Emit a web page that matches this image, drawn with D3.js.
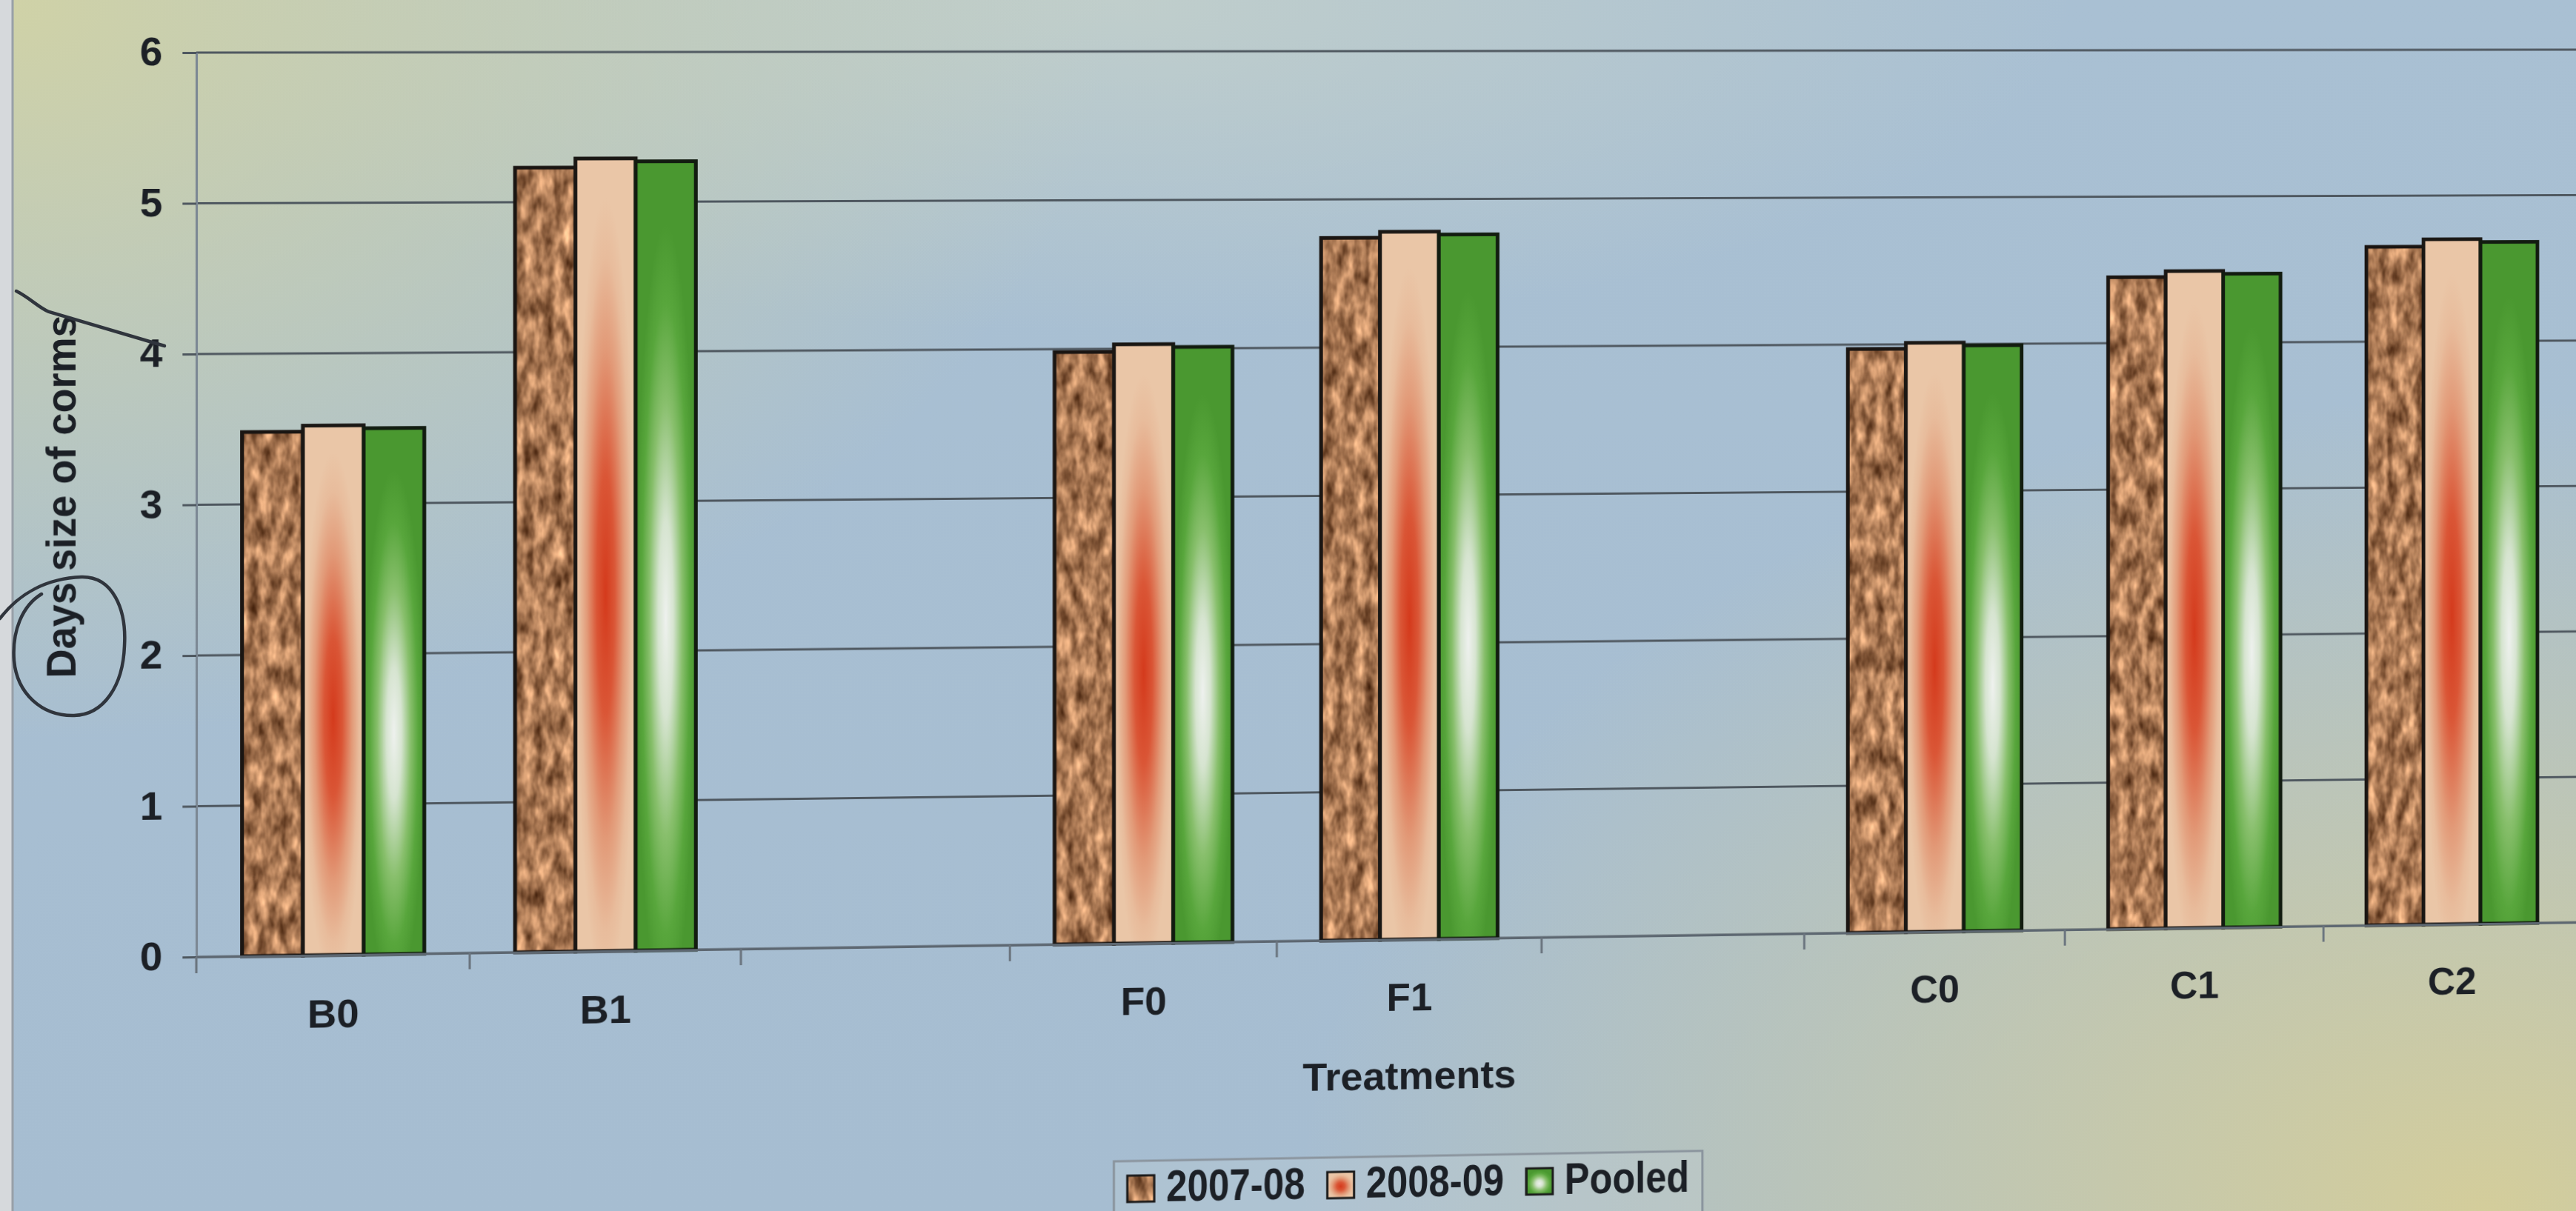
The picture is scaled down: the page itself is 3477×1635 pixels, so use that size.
<!DOCTYPE html>
<html>
<head>
<meta charset="utf-8">
<title>Days size of corms by treatment</title>
<script src="https://cdn.jsdelivr.net/npm/d3@7"></script>
<style>
  html, body { margin: 0; padding: 0; }
  body {
    width: 3477px; height: 1635px; overflow: hidden; position: relative;
    background:
      radial-gradient(1500px 1000px at 0px 0px, rgba(210,211,164,0.95), rgba(210,211,164,0) 100%),
      radial-gradient(1600px 1100px at 3350px 1635px, rgba(214,206,152,0.95), rgba(214,206,152,0) 100%),
      radial-gradient(1300px 450px at 1500px 0px, rgba(202,212,200,0.7), rgba(202,212,200,0) 100%),
      linear-gradient(180deg, #a9c0d3, #a6bdd1);
  }
  #chart { position: absolute; left: 0; top: 0; transform-origin: 0 0; }
  #ink { position: absolute; left: 0; top: 0; }
  text { font-family: "Liberation Sans", Arial, Helvetica, sans-serif; font-weight: bold; fill: #1c2026; }
</style>
</head>
<body>
<svg id="chart"></svg>
<svg id="ink" width="3477" height="1635"></svg>
<script>
// ---- data ----
const categories  = ["B0", "B1", "", "F0", "F1", "", "C0", "C1", "C2"];   // "" = empty slot between groups
const seriesNames = ["2007-08", "2008-09", "Pooled"];
const season2007  = [3.48, 5.23, null, 3.98, 4.74, null, 3.97, 4.45, 4.65];
const season2008  = [3.52, 5.29, null, 4.03, 4.78, null, 4.01, 4.49, 4.70];
const pooled      = [3.50, 5.27, null, 4.01, 4.76, null, 3.99, 4.47, 4.68];
const yTicks      = [0, 1, 2, 3, 4, 5, 6];
const xTitle = "Treatments";
const yTitle = "Days size of corms";

// ---- layout ----
const plot = { left: 265, right: 3482, top: 71, bottom: 1292 };
const fonts = { tick: 53, title: 54, legend: 62 };
const legendSquash = 0.82;   // condensed legend lettering

const svg = d3.select("#chart").attr("width", 3600).attr("height", 1720);

// the chart plane is seen slightly obliquely: the right side recedes
const tilt = { span: plot.right - plot.left, stretch: 0.0365, drop: -1.55 };
const tA = 1 + tilt.stretch, tG = tilt.stretch / tilt.span, tD = tilt.drop / tilt.span;
d3.select("#chart").style("transform",
  `translateX(${plot.left}px) matrix3d(${tA},${tD},0,${tG},0,1,0,0,0,0,1,0,0,0,0,1) translateX(${-plot.left}px)`);

// ---- scales ----
const x  = d3.scaleBand().domain(d3.range(categories.length)).range([plot.left, plot.right]);
const xs = d3.scaleBand().domain(seriesNames).range([0, x.bandwidth()]).paddingOuter(0.75);
const y  = d3.scaleLinear().domain([0, 6]).range([plot.bottom, plot.top]);

// ---- paints ----
const defs = svg.append("defs");

// mottled brown texture for 2007-08
const grain = defs.append("filter").attr("id", "grain")
  .attr("filterUnits", "userSpaceOnUse").attr("x", 0).attr("y", 0).attr("width", 3600).attr("height", 1720)
  .attr("color-interpolation-filters", "sRGB");
grain.append("feTurbulence").attr("type", "fractalNoise").attr("baseFrequency", "0.075 0.03")
  .attr("numOctaves", 3).attr("seed", 11).attr("result", "noise");
grain.append("feColorMatrix").attr("in", "noise").attr("type", "matrix")
  .attr("values", "1.0 0 0 0 0.17  0.85 0 0 0 0.05  0.7 0 0 0 -0.02  0 0 0 0 1");
const pat = defs.append("pattern").attr("id", "paint2007")
  .attr("patternUnits", "userSpaceOnUse").attr("width", 3600).attr("height", 1720);
pat.append("rect").attr("width", 3600).attr("height", 1720).attr("fill", "#a87756").attr("filter", "url(#grain)");

function radial(id, cy, stops) {
  const gr = defs.append("radialGradient").attr("id", id)
    .attr("cx", 0.5).attr("cy", cy).attr("r", 0.5).attr("fx", 0.5).attr("fy", cy);
  stops.forEach(([o, c]) => gr.append("stop").attr("offset", o).attr("stop-color", c));
}
radial("paint2008", 0.55, [[0, "#d43a1c"], [0.3, "#da5636"], [0.62, "#e29a78"], [0.85, "#e8bc9c"], [1, "#eac6a7"]]);
radial("paintPooled", 0.58, [[0, "#eef1ee"], [0.25, "#d6e4d0"], [0.55, "#88bf6c"], [0.8, "#58a63c"], [1, "#4a9830"]]);

const paints  = { "2007-08": "url(#paint2007)", "2008-09": "url(#paint2008)", "Pooled": "url(#paintPooled)" };
const outline = { "2007-08": "#1a1512", "2008-09": "#1a1714", "Pooled": "#121c10" };
const series  = [
  { name: "2007-08", values: season2007 },
  { name: "2008-09", values: season2008 },
  { name: "Pooled",  values: pooled }
];

// ---- gridlines ----
svg.append("g").selectAll("line").data(yTicks).join("line")
  .attr("x1", plot.left).attr("x2", plot.right)
  .attr("y1", d => y(d)).attr("y2", d => y(d))
  .attr("stroke", "#4e575f").attr("stroke-width", 3);

// ---- bars ----
const barLayer = svg.append("g");
series.forEach(s => {
  barLayer.append("g").selectAll("rect")
    .data(s.values.map((v, i) => ({ i, v })).filter(d => d.v != null))
    .join("rect")
    .attr("x", d => x(d.i) + xs(s.name))
    .attr("y", d => y(d.v))
    .attr("width", xs.bandwidth())
    .attr("height", d => y(0) - y(d.v))
    .attr("fill", paints[s.name])
    .attr("stroke", outline[s.name])
    .attr("stroke-width", 5);
});

// ---- y axis ----
const yAxis = svg.append("g").attr("transform", `translate(${plot.left},0)`)
  .call(d3.axisLeft(y).tickValues(yTicks).tickFormat(d3.format("d")).tickSize(18).tickSizeOuter(0).tickPadding(26));
yAxis.select(".domain").attr("stroke", "#7c8894").attr("stroke-width", 3);
yAxis.selectAll(".tick line").attr("stroke", "#4e575f").attr("stroke-width", 3);
yAxis.selectAll(".tick text").attr("font-size", fonts.tick).attr("fill", "#1c2026");

// ---- x axis ----
const xAxis = svg.append("g").attr("transform", `translate(0,${plot.bottom})`)
  .call(d3.axisBottom(x).tickFormat(i => categories[i]).tickSize(0).tickSizeOuter(0).tickPadding(60));
xAxis.select(".domain").attr("stroke", "#5d6771").attr("stroke-width", 3);
xAxis.selectAll(".tick text").attr("font-size", fonts.tick).attr("fill", "#1c2026");
// category dividers below the axis
const edges = d3.range(categories.length + 1).map(i => i < categories.length ? x(i) : x.range()[1]);
xAxis.append("g").selectAll("line").data(edges).join("line")
  .attr("x1", d => d).attr("x2", d => d).attr("y1", 0).attr("y2", 22)
  .attr("stroke", "#6a747e").attr("stroke-width", 3);

// ---- titles ----
const midX = (plot.left + plot.right) / 2;
svg.append("text").attr("x", midX).attr("y", 1498).attr("text-anchor", "middle")
  .attr("font-size", fonts.title).text(xTitle);
svg.append("text").attr("transform", "translate(108,669) rotate(-90)").attr("text-anchor", "middle")
  .attr("font-size", fonts.title).text(yTitle);

// ---- legend ----
const legend = svg.append("g").attr("class", "legend");
const sw = 36, gapIn = 16, gapOut = 30, padX = 18, baseY = 1646, boxTop = 1590;
const items = legend.selectAll("g.item").data(seriesNames).join("g").attr("class", "item");
items.append("rect").attr("width", sw).attr("height", sw).attr("y", baseY - sw)
  .attr("fill", d => paints[d]).attr("stroke", "#1a1a1a").attr("stroke-width", 3);
items.append("text")
  .attr("transform", `translate(${sw + gapIn},${baseY}) scale(${legendSquash},1)`)
  .attr("font-size", fonts.legend).text(d => d);
const widths = [];
items.each(function () {
  widths.push(sw + gapIn + this.querySelector("text").getComputedTextLength() * legendSquash);
});
const total = d3.sum(widths) + gapOut * (widths.length - 1);
const start = midX - total / 2;
let cursor = 0;
items.attr("transform", (d, i) => {
  const tx = start + cursor;
  cursor += widths[i] + gapOut;
  return `translate(${tx},0)`;
});
legend.insert("rect", ":first-child")
  .attr("x", start - padX).attr("y", boxTop).attr("width", total + 2 * padX).attr("height", 130)
  .attr("fill", "rgba(200,212,214,0.25)").attr("stroke", "#8a949d").attr("stroke-width", 3);

// ---- pen marks on the sheet ----
const ink = d3.select("#ink");
ink.append("rect").attr("x", 0).attr("y", 0).attr("width", 16).attr("height", 1635).attr("fill", "#d6d9dc");
ink.append("line").attr("x1", 17).attr("x2", 17).attr("y1", 0).attr("y2", 1635)
  .attr("stroke", "#98a0a8").attr("stroke-width", 3);
ink.append("path")
  .attr("d", "M0,835 C25,802 62,781 110,779 C152,778 171,822 168,872 C166,926 140,965 100,966 C56,967 23,936 19,892 C16,852 30,818 56,802")
  .attr("fill", "none").attr("stroke", "#30353d").attr("stroke-width", 4.5).attr("stroke-linecap", "round");
ink.append("path")
  .attr("d", "M22,393 C40,402 52,415 66,421 L222,467")
  .attr("fill", "none").attr("stroke", "#30353d").attr("stroke-width", 4.5).attr("stroke-linecap", "round");
</script>
</body>
</html>
